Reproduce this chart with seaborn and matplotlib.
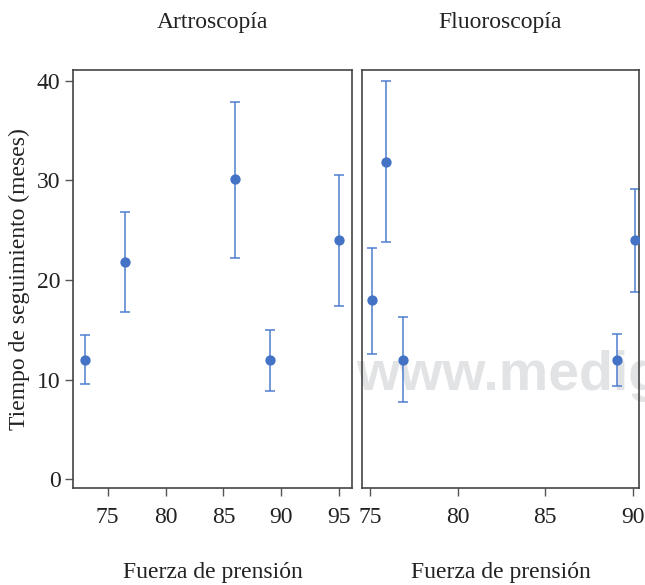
import matplotlib
matplotlib.use("Agg")
import matplotlib.pyplot as plt
import seaborn as sns
import pandas as pd

# ---- data ----
panels = ["Artroscopía", "Fluoroscopía"]

artro_x = [73.0, 76.5, 86.0, 89.0, 95.0]
artro_y = [12.0, 21.8, 30.1, 12.0, 24.0]
artro_lo = [9.5, 16.8, 22.2, 8.8, 17.4]
artro_hi = [14.5, 26.8, 37.9, 15.0, 30.6]

fluoro_x = [75.1, 75.9, 76.9, 89.1, 90.1]
fluoro_y = [18.0, 31.9, 12.0, 12.0, 24.0]
fluoro_lo = [12.6, 23.8, 7.7, 9.3, 18.8]
fluoro_hi = [23.2, 40.0, 16.3, 14.6, 29.1]

xticks_artro = [75, 80, 85, 90, 95]
xticks_fluoro = [75, 80, 85, 90]
yticks = [0, 10, 20, 30, 40]

xlabel = "Fuerza de prensión"
ylabel = "Tiempo de seguimiento (meses)"
watermark = "www.medigraphic.com"

# ---- style ----
sns.set_theme(style="white")
plt.rcParams["font.family"] = ["Liberation Serif", "DejaVu Serif"]

point_color = "#4472C4"
bar_color = "#4F7ED0"
text_color = "#222222"
FS = 17

fig = plt.figure(figsize=(6.45, 5.85), dpi=100)
ax1 = fig.add_axes([73 / 645, 97 / 585, 279 / 645, 418 / 585])
ax2 = fig.add_axes([362 / 645, 97 / 585, 277 / 645, 418 / 585])

fig.text(356 / 645, 1 - 390 / 585, watermark, color="#E2E3E5",
         fontsize=40, fontweight="bold",
         family=["Liberation Sans", "DejaVu Sans"],
         ha="left", va="baseline", zorder=-5)

datasets = [
    (ax1, panels[0], artro_x, artro_y, artro_lo, artro_hi, xticks_artro, (72.0, 96.1)),
    (ax2, panels[1], fluoro_x, fluoro_y, fluoro_lo, fluoro_hi, xticks_fluoro, (74.55, 90.35)),
]

for ax, title, xs, ys, lo, hi, xt, xlim in datasets:
    ax.patch.set_alpha(0)
    df = pd.DataFrame({"x": xs, "y": ys, "lo": lo, "hi": hi})
    ax.errorbar(df["x"], df["y"],
                yerr=[df["y"] - df["lo"], df["hi"] - df["y"]],
                fmt="none", ecolor=bar_color, elinewidth=1.1,
                capsize=3.6, capthick=1.1, zorder=2)
    sns.scatterplot(data=df, x="x", y="y", ax=ax, color=point_color,
                    s=55, edgecolor=point_color, linewidth=0, zorder=3)
    ax.set_xlim(*xlim)
    ax.set_ylim(-0.9, 41.1)
    ax.set_xticks(xt)
    ax.set_yticks(yticks)
    ax.tick_params(axis="both", labelsize=FS, length=6, width=1.0,
                   direction="out", pad=3, bottom=True, left=True,
                   color="#555555", labelcolor=text_color)
    ax.tick_params(axis="x", pad=8)
    for sp in ax.spines.values():
        sp.set_visible(True)
        sp.set_linewidth(1.2)
        sp.set_color("#444444")
    ax.set_title(title, fontsize=FS, pad=30, color=text_color)
    ax.set_xlabel(xlabel, fontsize=FS, labelpad=24, color=text_color)
    ax.set_ylabel("")

ax1.set_ylabel(ylabel, fontsize=FS, labelpad=5, color=text_color)
ax2.tick_params(axis="y", left=False, labelleft=False)

fig.savefig("out.png", dpi=100)
